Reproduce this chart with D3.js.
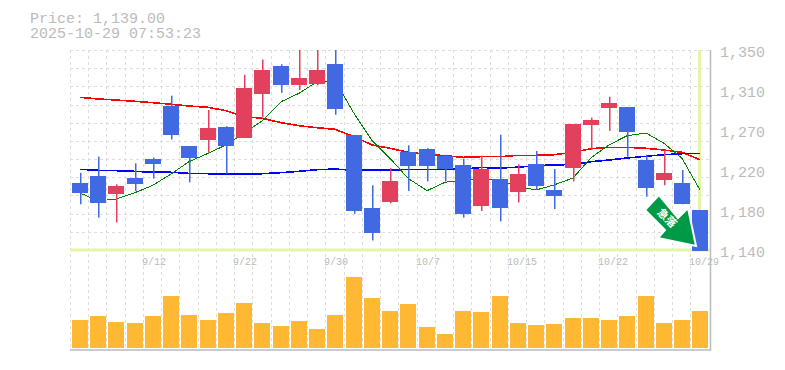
<!DOCTYPE html>
<html>
<head>
<meta charset="utf-8">
<script src="https://cdn.jsdelivr.net/npm/d3@7"></script>
<style>
  body { margin: 0; background: #fff; }
  svg { display: block; }
  text { font-family: 'Liberation Mono', monospace; fill: #bbb; }
</style>
</head>
<body>
<div id="chart"></div>
<script>
var open = [1210, 1218, 1199, 1216, 1236, 1291, 1249, 1255, 1269, 1258, 1304, 1333, 1313, 1314, 1335, 1261, 1184, 1190, 1243, 1246, 1239, 1229, 1186, 1215, 1201, 1230, 1203, 1226, 1271, 1289, 1290, 1235, 1213, 1210, 1182]
var high = [1221, 1238, 1209, 1231, 1237, 1302, 1249, 1287, 1270, 1324, 1340, 1335, 1360, 1356, 1358, 1261, 1208, 1226, 1250, 1247, 1240, 1236, 1239, 1261, 1230, 1244, 1225, 1272, 1279, 1301, 1290, 1240, 1245, 1224, 1182]
var low = [1188, 1174, 1169, 1202, 1215, 1256, 1211, 1242, 1220, 1258, 1279, 1305, 1308, 1313, 1282, 1178, 1150, 1189, 1202, 1212, 1212, 1174, 1181, 1170, 1190, 1203, 1183, 1212, 1245, 1265, 1238, 1196, 1208, 1188, 1139]
var close = [1200, 1189, 1207, 1209, 1230, 1261, 1237, 1268, 1249, 1310, 1329, 1313, 1321, 1329, 1288, 1181, 1158, 1212, 1228, 1228, 1225, 1178, 1225, 1184, 1220, 1207, 1197, 1272, 1276, 1294, 1264, 1205, 1221, 1188, 1139]
var volume = [28, 32, 26, 25, 32, 52, 33, 28, 35, 45, 25, 22, 27, 19, 33, 71, 50, 37, 44, 21, 14, 37, 36, 52, 25, 23, 24, 30, 30, 28, 32, 52, 25, 28, 37]

var maShort = [1199.9, 1191.5, 1193.6, 1200.2, 1208, 1219.8, 1232.7, 1241.5, 1250.3, 1262.9, 1275.5, 1295.7, 1304.5, 1316.7, 1317.8, 1283.5, 1254.8, 1236.3, 1215.3, 1202.3, 1211.1, 1213.5, 1214.6, 1213.5, 1206.5, 1203, 1208.3, 1215.6, 1236.9, 1250.3, 1260, 1262.9, 1252, 1236.3, 1203]
var maMid = [1300.3, 1298.6, 1297.5, 1296.1, 1294.7, 1293, 1291.2, 1289.8, 1286.3, 1280, 1278.3, 1273.7, 1270.5, 1268.4, 1266.7, 1259, 1250.3, 1246.8, 1242.6, 1240.5, 1239, 1237.3, 1238, 1238, 1239.4, 1239.4, 1240, 1242.6, 1246.4, 1247.8, 1247.8, 1246.8, 1245, 1242.6, 1234.8]
var maLong = [1224.7, 1223.7, 1223.3, 1222.6, 1221.6, 1221.6, 1220.5, 1220.1, 1219.5, 1220.1, 1220.1, 1221.2, 1222.6, 1224.3, 1225, 1223.7, 1223.7, 1223.7, 1224.7, 1224.7, 1224.7, 1225, 1226.6, 1226, 1227, 1228.5, 1229.3, 1229.8, 1232.7, 1234.5, 1236.6, 1238.4, 1240.1, 1241.1, 1241.5]

var priceTicks = [1350, 1308, 1266, 1224, 1182, 1140]
var dateTickIndex = [4, 9, 14, 19, 24, 29, 34]
var dateTickLabels = ['9/12', '9/22', '9/30', '10/7', '10/15', '10/22', '10/29']
var titleLines = ['Price: 1,139.00', '2025-10-29 07:53:23']
var lastPrice = 1139
var badgeText = '急落'

var width = 785
var height = 370
var left = 70
var right = 710
var top_ = 50
var priceBottom = 250
var volBottom = 348
var barWidth = 16

var blue = '#4169e1'
var red = '#e3405e'
var yellow = '#e5f5a8'
var gridColor = '#ddd'
var axisColor = '#bbb'

var svg = d3.select('#chart').append('svg')
  .attr('width', width)
  .attr('height', height)

var idx = d3.range(open.length)

var x = d3.scaleBand().domain(idx).range([70.3, 70.3 + 18.25 * idx.length])
var y = d3.scaleLinear().domain([1140, 1350]).range([priceBottom, top_])
var yVol = d3.scaleLinear().domain([0, d3.max(volume)]).range([volBottom, 277])

var barLeft = i => Math.round(x(i) + 1.5)
var barMid = i => barLeft(i) + barWidth / 2

svg.append('clipPath').attr('id', 'price-clip')
  .append('rect')
  .attr('x', left).attr('y', top_)
  .attr('width', right - left + 2).attr('height', priceBottom - top_ + 2)

// grid
var gridH = d3.range(12).map(i => Math.round(top_ + i * (priceBottom - top_) / 11) + 0.5)
svg.selectAll('line.grid-h').data(gridH).enter().append('line')
  .attr('class', 'grid-h')
  .attr('x1', left).attr('x2', right)
  .attr('y1', d => d).attr('y2', d => d)
  .attr('stroke', gridColor)
  .attr('stroke-dasharray', '3 3')

svg.selectAll('line.grid-v').data(idx).enter().append('line')
  .attr('class', 'grid-v')
  .attr('x1', i => Math.floor(x(i)) + 0.5).attr('x2', i => Math.floor(x(i)) + 0.5)
  .attr('y1', top_).attr('y2', volBottom + 2)
  .attr('stroke', gridColor)
  .attr('stroke-dasharray', '3 3')

// last price crosshair
svg.append('line')
  .attr('x1', left).attr('x2', right + 1)
  .attr('y1', y(1140)).attr('y2', y(1140))
  .attr('stroke', yellow).attr('stroke-width', 3)
svg.append('line')
  .attr('x1', barMid(34) - 0.5).attr('x2', barMid(34) - 0.5)
  .attr('y1', top_).attr('y2', y(1140))
  .attr('stroke', yellow).attr('stroke-width', 3)

// axis frame
svg.append('path')
  .attr('d', `M${right + 0.5},${top_}V${volBottom + 2}H${left}`)
  .attr('fill', 'none')
  .attr('stroke', axisColor)
  .attr('stroke-width', 1.5)

var plot = svg.append('g').attr('clip-path', 'url(#price-clip)')

var line = d3.line().x((d, i) => barMid(i)).y(d => y(d))

var maSeries = [
  { values: maMid, color: '#f00', w: 1.6 },
  { values: maLong, color: '#00f', w: 1.6 },
  { values: maShort, color: '#008000', w: 1 }
]
plot.selectAll('path.ma').data(maSeries).enter().append('path')
  .attr('class', 'ma')
  .attr('d', d => line(d.values))
  .attr('fill', 'none')
  .attr('stroke', d => d.color)
  .attr('stroke-width', d => d.w)
  .attr('shape-rendering', 'crispEdges')

var candleColor = i => (close[i] >= open[i] ? red : blue)

plot.selectAll('rect.wick').data(idx).enter().append('rect')
  .attr('class', 'wick')
  .attr('x', i => barMid(i))
  .attr('width', 1.5)
  .attr('y', i => y(high[i]))
  .attr('height', i => y(low[i]) - y(high[i]))
  .attr('fill', candleColor)

plot.selectAll('rect.body').data(idx).enter().append('rect')
  .attr('class', 'body')
  .attr('x', barLeft)
  .attr('width', barWidth)
  .attr('y', i => Math.round(y(Math.max(open[i], close[i]))))
  .attr('height', i => Math.round(y(Math.min(open[i], close[i]))) - Math.round(y(Math.max(open[i], close[i]))))
  .attr('fill', candleColor)

// volume
svg.selectAll('rect.vol').data(idx).enter().append('rect')
  .attr('class', 'vol')
  .attr('x', barLeft)
  .attr('width', barWidth)
  .attr('y', i => yVol(volume[i]))
  .attr('height', i => volBottom - yVol(volume[i]))
  .attr('fill', '#ffb833')

// labels
svg.selectAll('text.price').data(priceTicks).enter().append('text')
  .attr('class', 'price')
  .attr('x', 720)
  .attr('y', d => y(d) + 7)
  .attr('font-size', 15)
  .text(d => d3.format(',')(Math.round(d / 10) * 10))

svg.selectAll('text.date').data(dateTickIndex).enter().append('text')
  .attr('class', 'date')
  .attr('x', d => barMid(d) - 11)
  .attr('y', 265)
  .attr('font-size', 10)
  .text((d, i) => dateTickLabels[i])

svg.selectAll('text.title').data(titleLines).enter().append('text')
  .attr('class', 'title')
  .attr('x', 30)
  .attr('y', (d, i) => 23 + i * 15)
  .attr('font-size', 15)
  .text(d => d)

// falling arrow badge
var badge = svg.append('g')
badge.append('path')
  .attr('d', 'M659,195L645,210L665,230L658,238L696,246L688,208L678,218Z')
  .attr('fill', '#009a46')
  .attr('stroke', '#fff')
  .attr('stroke-width', 2)
badge.append('text')
  .attr('transform', 'translate(667,218) rotate(45)')
  .attr('text-anchor', 'middle')
  .attr('dy', 4)
  .attr('font-size', 11)
  .attr('font-weight', 'bold')
  .style('font-family', "'Noto Sans CJK JP', sans-serif")
  .style('fill', '#fff')
  .text(badgeText)
</script>
</body>
</html>
